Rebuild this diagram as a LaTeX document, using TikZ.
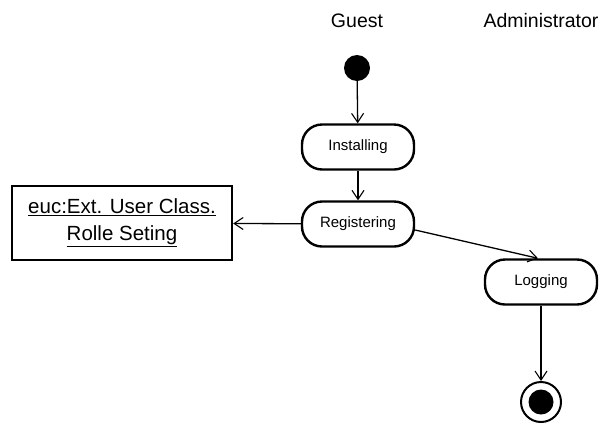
\documentclass[tikz,border=0pt]{standalone}
\usepackage{fontspec}
\setmainfont{Liberation Sans}
\usetikzlibrary{arrows.meta}
\begin{document}
\begin{tikzpicture}[x=1pt,y=-1pt,
  activity/.style={draw,line width=2.4pt,rounded corners=20pt,minimum width=112pt,
    minimum height=45pt,inner sep=0pt,font=\fontsize{15}{18}\selectfont},
  objbox/.style={draw,line width=2.4pt,minimum width=220pt,minimum height=74pt,
    inner sep=0pt,align=center,font=\fontsize{20.5}{25}\selectfont},
  lane/.style={font=\fontsize{19.5}{23}\selectfont},
  flow/.style={line width=1.3pt,-{Straight Barb[length=9pt,width=12pt,line width=1.1pt]}}]
\useasboundingbox (0,0) rectangle (605,424);
% swimlane headings
\node[lane] (guest) at (357,21) {Guest};
\node[lane,anchor=west] (admin) at (480,21) {Administrator};
% initial state
\node[circle,fill=black,minimum size=26pt,inner sep=0pt] (start) at (357,68) {};
% activities
\node[activity] (inst) at (358,147) {Installing};
\node[activity] (reg) at (358,224) {Registering};
\node[activity] (log) at (541,282) {Logging};
% object flow target
\node[objbox] (obj) at (122,223) {\underline{euc:Ext. User Class.}\\[2pt]\underline{Rolle Seting}};
% final state
\node[circle,draw,line width=2pt,minimum size=40pt,inner sep=0pt] (final) at (541,402) {};
\node[circle,fill=black,minimum size=25pt,inner sep=0pt] (finaldot) at (final.center) {};
% transitions
\draw[flow] (start) -- (inst);
\draw[flow] (inst) -- (reg);
\draw[flow] (reg) -- (obj);
\draw[flow] ([yshift=-6pt]reg.east) -- ([xshift=-3pt]log.north);
\draw[flow] (log) -- (final);
\end{tikzpicture}
\end{document}
